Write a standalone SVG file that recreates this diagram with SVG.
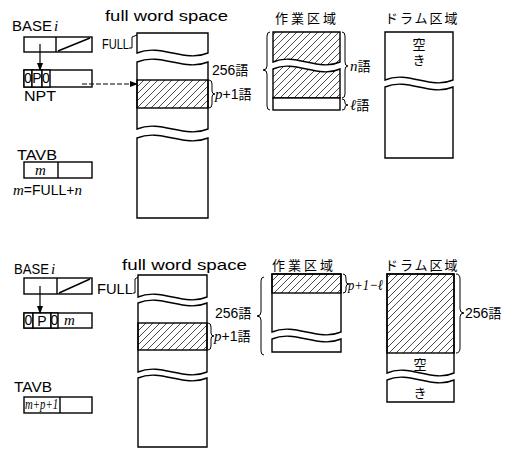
<svg xmlns="http://www.w3.org/2000/svg" width="521" height="450" viewBox="0 0 521 450">
<style>
.s{fill:none;stroke:#000;stroke-width:1.4}
.w{fill:#fff;stroke:#000;stroke-width:1.4}
.h{fill:url(#hatch);stroke:#000;stroke-width:1.4}
.t{font-family:"Liberation Sans",Arial,sans-serif;font-size:14px;fill:#000}
.it{font-family:"Liberation Serif","Times New Roman",serif;font-style:italic;font-size:15px;fill:#000}
.j{font-family:"Noto Sans CJK JP",sans-serif;font-size:13px;fill:#000}
.br{fill:none;stroke:#000;stroke-width:1}
.c{stroke:#000;stroke-width:1.2;fill:none}
.m{text-anchor:middle}
</style>
<defs>
<pattern id="hatch" patternUnits="userSpaceOnUse" width="7" height="7">
<path d="M0,7 L7,0 M-1,1 L1,-1 M6,8 L8,6" stroke="#000" stroke-width="0.7"/>
</pattern>
<marker id="ah" markerWidth="8" markerHeight="6" refX="7" refY="3" orient="auto" markerUnits="userSpaceOnUse">
<path d="M0,0 L8,3 L0,6 Z" fill="#000"/>
</marker>
</defs>

<!-- ===== TOP ===== -->
<g id="base-top">
<text class="t" x="12" y="31" textLength="40" lengthAdjust="spacingAndGlyphs">BASE</text>
<text class="it" x="54" y="31">i</text>
<rect class="w" x="24" y="37" width="68" height="15"/>
<line class="s" x1="56" y1="37" x2="56" y2="52"/>
<line class="s" x1="58" y1="51" x2="90" y2="38"/>
</g>
<g id="npt-top">
<rect class="w" x="24" y="70" width="68" height="17"/>
<rect class="w" x="24" y="70" width="8" height="17" stroke-width="2"/>
<rect class="w" x="32" y="70" width="10" height="17"/>
<rect class="w" x="42" y="70" width="8" height="17" stroke-width="2"/>
<text class="t m" x="28" y="83" font-size="11">0</text>
<text class="t m" x="37" y="83" font-size="12">P</text>
<text class="t m" x="46" y="83" font-size="11">0</text>
<text class="t" x="24" y="101" textLength="32" lengthAdjust="spacingAndGlyphs">NPT</text>
</g>
<g id="tavb-top">
<text class="t" x="17" y="160" textLength="40" lengthAdjust="spacingAndGlyphs">TAVB</text>
<rect class="w" x="24" y="162" width="68" height="16"/>
<line class="s" x1="58" y1="162" x2="58" y2="178"/>
<text class="it" x="35" y="175">m</text>
<text class="t" x="13" y="195"><tspan class="it">m</tspan>=FULL+<tspan class="it">n</tspan></text>
</g>
<g id="fws-top">
<text class="t" x="105" y="21" font-size="15" textLength="123" lengthAdjust="spacingAndGlyphs">full word space</text>
<text class="t" x="102" y="49" textLength="27" lengthAdjust="spacingAndGlyphs">FULL</text>
<path class="br" d="M129,48 L132,48 L132,37 L137,35"/>
<path class="w" d="M137,33 H208 V53 C184,63 161,43 137,53 Z"/>
<path class="w" d="M137,62 C161,52 184,72 208,62 V129 C184,139 161,119 137,129 Z"/>
<rect class="h" x="137" y="80" width="71" height="28"/>
<path class="w" d="M137,138 C161,128 184,148 208,138 V218 H137 Z"/>
<text class="t" x="212" y="75">256<tspan class="j" font-size="12">語</tspan></text>
<path class="br" d="M209,80 Q212,80 212,84 L212,91 Q212,94 215,94 Q212,94 212,97 L212,104 Q212,108 209,108"/>
<text class="t" x="215" y="99" font-size="11"><tspan class="it">p</tspan>+1<tspan class="j" font-size="12">語</tspan></text>
</g>
<g id="work-top">
<text class="j" x="275" y="23" font-size="14" letter-spacing="3">作業区域</text>
<path class="h" d="M273,32 H340 V62 C318,72 295,52 273,62 Z"/>
<path class="h" d="M273,69 C295,59 318,79 340,69 V98 H273 Z"/>
<rect class="w" x="273" y="98" width="67" height="12"/>
<path class="br" d="M270,32 Q267,32 267,36 L267,66 Q267,70 263,70 Q267,70 267,74 L267,106 Q267,110 270,110"/>
<path class="br" d="M342,32 Q345,32 345,36 L345,62 Q345,66 348,66 Q345,66 345,70 L345,94 Q345,98 342,98"/>
<text class="it" x="350" y="71">n<tspan class="j" font-size="12" font-style="normal">語</tspan></text>
<path class="br" d="M342,99 Q345,99 345,102 L345,103 Q345,105 348,105 Q345,105 345,107 L345,108 Q345,110 342,110"/>
<text class="it" x="350" y="110">ℓ<tspan class="j" font-size="12" font-style="normal">語</tspan></text>
</g>
<g id="drum-top">
<text class="j" x="385" y="23" font-size="14" letter-spacing="2">ドラム区域</text>
<path class="w" d="M385,32 H453 V80 C430,90 408,70 385,80 Z"/>
<path class="w" d="M385,87 C408,77 430,97 453,87 V158 H385 Z"/>
<text class="j" x="419" y="38" font-size="12" writing-mode="vertical-rl" letter-spacing="3">空き</text>
</g>

<!-- ===== BOTTOM ===== -->
<g id="base-bot">
<text class="t" x="14" y="274" textLength="35" lengthAdjust="spacingAndGlyphs">BASE</text>
<text class="it" x="51" y="274">i</text>
<rect class="w" x="24" y="278" width="68" height="16"/>
<line class="s" x1="57" y1="278" x2="57" y2="294"/>
<line class="s" x1="59" y1="293" x2="90" y2="279"/>
</g>
<g id="npt-bot">
<rect class="w" x="24" y="313" width="68" height="15"/>
<rect class="w" x="24" y="313" width="9" height="15" stroke-width="2"/>
<rect class="w" x="33" y="313" width="18" height="15"/>
<rect class="w" x="51" y="313" width="7" height="15" stroke-width="2"/>
<text class="t m" x="28.5" y="325" font-size="10">0</text>
<text class="t m" x="42" y="326" font-size="14">P</text>
<text class="t m" x="54.5" y="325" font-size="9">0</text>
<text class="it" x="64" y="325">m</text>
</g>
<g id="tavb-bot">
<text class="t" x="14" y="392" textLength="38" lengthAdjust="spacingAndGlyphs">TAVB</text>
<rect class="w" x="24" y="397" width="68" height="16"/>
<line class="s" x1="60" y1="397" x2="60" y2="413"/>
<text class="it" x="25" y="409" font-size="9" textLength="33" lengthAdjust="spacingAndGlyphs">m+p+1</text>
</g>
<g id="fws-bot">
<text class="t" x="122" y="270" font-size="15" textLength="125" lengthAdjust="spacingAndGlyphs">full word space</text>
<text class="t" x="97" y="294" textLength="36" lengthAdjust="spacingAndGlyphs">FULL</text>
<path class="br" d="M133,293 L135,293 L135,279 L138,277"/>
<path class="w" d="M138,275 H207 V297 C184,307 161,287 138,297 Z"/>
<path class="w" d="M138,303 C161,293 184,313 207,303 V372 C184,382 161,362 138,372 Z"/>
<rect class="h" x="138" y="323" width="69" height="27"/>
<path class="w" d="M138,378 C161,368 184,388 207,378 V447 H138 Z"/>
<text class="t" x="215" y="318">256<tspan class="j" font-size="12">語</tspan></text>
<path class="br" d="M264,277 Q261,277 261,281 L261,312 Q261,316 257,316 Q261,316 261,320 L261,351 Q261,355 264,355"/>
<path class="br" d="M208,323 Q211,323 211,327 L211,333 Q211,336 214,336 Q211,336 211,339 L211,346 Q211,350 208,350"/>
<text class="t" x="214" y="341" font-size="10"><tspan class="it">p</tspan>+1<tspan class="j" font-size="12">語</tspan></text>
</g>
<g id="drum-bot">
<text class="j" x="385" y="270" font-size="14" letter-spacing="2">ドラム区域</text>
<path class="w" d="M387,274 H454 V373 C432,383 409,363 387,373 Z"/>
<rect class="h" x="387" y="274" width="67" height="79"/>
<path class="w" d="M387,380 C409,370 432,390 454,380 V402 H387 Z"/>
<path class="br" d="M456,274 Q460,274 460,279 L460,309 Q460,313 464,313 Q460,313 460,317 L460,348 Q460,353 456,353"/>
<text class="t" x="465" y="318">256<tspan class="j" font-size="13">語</tspan></text>
<text class="j m" x="420" y="369" font-size="13">空</text>
<text class="j m" x="420" y="398" font-size="13">き</text>
</g>
<g id="work-bot">
<text class="j" x="272" y="270" font-size="14" letter-spacing="3">作業区域</text>
<path class="w" d="M272,274 H341 V332 C318,342 295,322 272,332 Z"/>
<rect class="h" x="272" y="274" width="69" height="19"/>
<path class="w" d="M272,339 C295,329 318,349 341,339 V352 H272 Z"/>
<path class="br" d="M343,274 Q346,274 346,278 L346,281 Q346,284 349,284 Q346,284 346,287 L346,290 Q346,293 343,293"/>
<text class="it" x="348" y="290" font-size="12" textLength="35" lengthAdjust="spacingAndGlyphs">p+1−ℓ</text>
</g>

<g id="connectors">
<line class="c" x1="40" y1="44" x2="40" y2="70" marker-end="url(#ah)"/>
<line class="c" x1="82" y1="84" x2="137" y2="84" stroke-dasharray="5,2" marker-end="url(#ah)"/>
<line class="c" x1="40" y1="286" x2="40" y2="313" marker-end="url(#ah)"/>
</g>
</svg>
